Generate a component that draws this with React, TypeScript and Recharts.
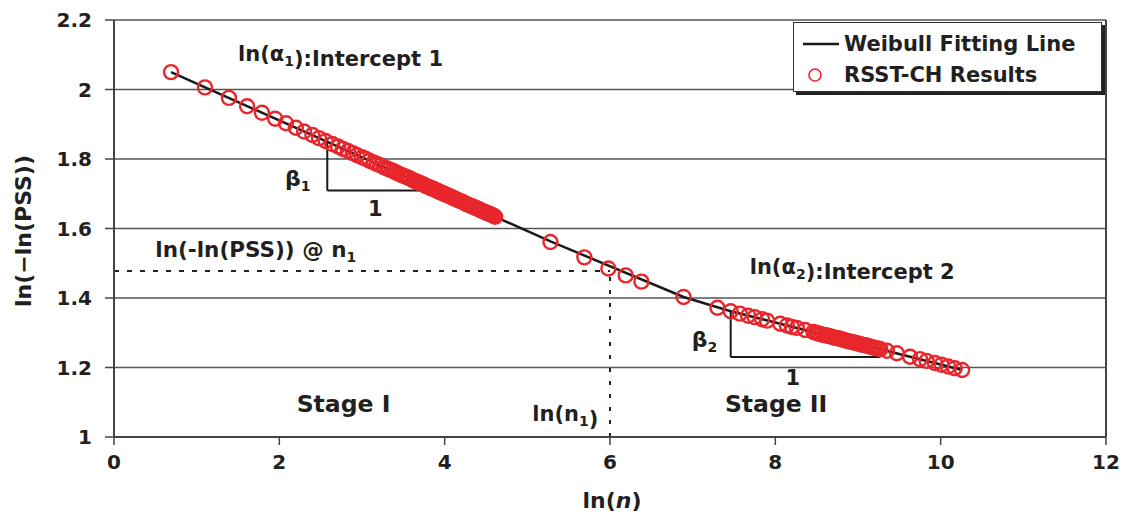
import React from 'react';
import {
  ScatterChart,
  Scatter,
  XAxis,
  YAxis,
  CartesianGrid,
  ReferenceLine,
  ReferenceDot,
  Legend,
} from 'recharts';

// ln(n) and ln(-ln(PSS))
const stage1X = [
  0.69, 1.1, 1.39, 1.61, 1.79, 1.95, 2.08, 2.2, 2.3, 2.4, 2.48, 2.56, 2.64, 2.71, 2.77, 2.83, 2.89, 2.94,
  3.0, 3.04, 3.09, 3.14, 3.18, 3.22, 3.26, 3.3, 3.33, 3.37, 3.4, 3.43, 3.47, 3.5, 3.53, 3.56, 3.58, 3.61,
  3.64, 3.66, 3.69, 3.71, 3.74, 3.76, 3.78, 3.81, 3.83, 3.85, 3.87, 3.89, 3.91, 3.93, 3.95, 3.97, 3.99,
  4.01, 4.03, 4.06, 4.09, 4.11, 4.14, 4.17, 4.2, 4.23, 4.26, 4.29, 4.32, 4.34, 4.37, 4.39, 4.42, 4.44,
  4.47, 4.49, 4.51, 4.53, 4.55, 4.57, 4.59, 4.61,
];
const stage1Y = [
  2.05, 2.006, 1.976, 1.952, 1.933, 1.916, 1.903, 1.89, 1.879, 1.869, 1.86, 1.852, 1.843, 1.836, 1.829,
  1.823, 1.817, 1.811, 1.805, 1.801, 1.795, 1.79, 1.786, 1.782, 1.777, 1.773, 1.77, 1.766, 1.763, 1.759,
  1.755, 1.752, 1.749, 1.746, 1.744, 1.74, 1.737, 1.735, 1.732, 1.73, 1.727, 1.724, 1.722, 1.719, 1.717,
  1.715, 1.713, 1.711, 1.709, 1.706, 1.704, 1.702, 1.7, 1.698, 1.696, 1.693, 1.69, 1.687, 1.684, 1.681,
  1.678, 1.675, 1.671, 1.668, 1.665, 1.663, 1.66, 1.658, 1.655, 1.652, 1.649, 1.647, 1.645, 1.643, 1.641,
  1.639, 1.637, 1.634,
];
const middleX = [5.28, 5.69, 5.98, 6.19, 6.38, 6.89, 7.3, 7.46];
const middleY = [1.561, 1.517, 1.485, 1.465, 1.447, 1.403, 1.372, 1.362];
const stage2X = [
  7.57, 7.67, 7.75, 7.84, 7.9, 8.06, 8.14, 8.2, 8.26, 8.36, 8.46, 8.49, 8.52, 8.55, 8.58, 8.61, 8.64, 8.67,
  8.7, 8.73, 8.76, 8.79, 8.82, 8.85, 8.88, 8.91, 8.94, 8.97, 9.0, 9.03, 9.06, 9.09, 9.12, 9.15, 9.18, 9.21,
  9.24, 9.27, 9.35, 9.47, 9.63, 9.75, 9.83, 9.93, 10.01, 10.09, 10.17, 10.26,
];
const stage2Y = [
  1.355, 1.349, 1.345, 1.339, 1.335, 1.326, 1.321, 1.317, 1.314, 1.308, 1.302, 1.3, 1.298, 1.296, 1.294,
  1.293, 1.291, 1.289, 1.287, 1.285, 1.284, 1.282, 1.28, 1.278, 1.276, 1.274, 1.273, 1.271, 1.269, 1.267,
  1.265, 1.264, 1.262, 1.26, 1.258, 1.256, 1.255, 1.253, 1.248, 1.241, 1.231, 1.224, 1.219, 1.213, 1.208,
  1.203, 1.198, 1.193,
];

// Weibull fitting line
const fitX = [0.69, 5.28, 6.89, 7.46, 10.26];
const fitY = [2.05, 1.563, 1.403, 1.362, 1.193];

const xTicks = [0, 2, 4, 6, 8, 10, 12];
const yTicks = [1, 1.2, 1.4, 1.6, 1.8, 2, 2.2];

// transition point n1
const lnN1 = 6;
const pssAtN1 = 1.478;

// slope triangles [xLeft, xRight, yTop, yBottom]
const triangle1 = [2.58, 3.76, 1.856, 1.709];
const triangle2 = [7.46, 9.27, 1.362, 1.23];

const zip = (xs: number[], ys: number[]) => xs.map((x, i) => ({ x, y: ys[i] }));
const resultData = [
  ...zip(stage1X, stage1Y),
  ...zip(middleX, middleY),
  ...zip(stage2X, stage2Y),
];
const fitData = zip(fitX, fitY);

const FONT = '"DejaVu Sans", "Liberation Sans", Arial, sans-serif';
const INK = '#231f20';
const RED = '#e8262b';

const textStyle = { fontFamily: FONT, fontWeight: 700, fontSize: 20, fill: INK };

function note(
  key: string,
  x: number,
  y: number,
  content: React.ReactNode,
  size = 21,
  anchor = 'start',
) {
  return (
    <ReferenceDot
      key={key}
      x={x}
      y={y}
      r={0}
      fill="none"
      stroke="none"
      label={(p: any) => {
        const vb = p.viewBox || {};
        const cx = (vb.x ?? 0) + (vb.width ?? 0) / 2;
        const cy = (vb.y ?? 0) + (vb.height ?? 0) / 2;
        return (
          <text x={cx} y={cy} textAnchor={anchor as any} style={{ ...textStyle, fontSize: size }}>
            {content}
          </text>
        );
      }}
    />
  );
}

const sub = (s: string) => [
  <tspan key="s" fontSize={14} dy={5}>{s}</tspan>,
  <tspan key="r" dy={-5}>{''}</tspan>,
];

function LegendBox() {
  return (
    <div
      style={{
        width: 309,
        height: 70,
        boxSizing: 'border-box',
        border: '1.5px solid #333',
        boxShadow: '3px 3px 0 #222',
        background: '#fff',
        fontFamily: FONT,
        fontWeight: 700,
        fontSize: 21,
        color: INK,
        paddingLeft: 9,
        paddingTop: 5,
        whiteSpace: 'nowrap',
      }}
    >
      <div style={{ display: 'flex', alignItems: 'center', height: 31 }}>
        <svg width={38} height={10} style={{ marginRight: 3 }}>
          <line x1={0} y1={5} x2={36} y2={5} stroke="#1a1a1a" strokeWidth={2.5} />
        </svg>
        Weibull Fitting Line
      </div>
      <div style={{ display: 'flex', alignItems: 'center', height: 31 }}>
        <svg width={38} height={16} style={{ marginRight: 3 }}>
          <circle cx={12} cy={8} r={6} fill="none" stroke={RED} strokeWidth={1.6} />
        </svg>
        RSST-CH Results
      </div>
    </div>
  );
}

export default function App() {
  return (
    <div style={{ position: 'absolute', left: 0, top: 0, background: '#fff' }}>
      <ScatterChart width={1122} height={518} margin={{ top: 20, right: 16, bottom: 0, left: 0 }}>
        <CartesianGrid vertical={false} stroke="#555" strokeWidth={1.4} />
        <XAxis
          type="number"
          dataKey="x"
          domain={[0, 12]}
          ticks={xTicks}
          interval={0}
          height={81}
          tickSize={8}
          tickMargin={10}
          axisLine={{ stroke: '#444', strokeWidth: 2 }}
          tickLine={{ stroke: '#444', strokeWidth: 1.5 }}
          tick={textStyle}
          label={{
            content: () => (
              <text x={612} y={508} textAnchor="middle" style={{ ...textStyle, fontSize: 22 }}>
                ln(<tspan fontStyle="italic">n</tspan>)
              </text>
            ),
          }}
        />
        <YAxis
          type="number"
          dataKey="y"
          domain={[1, 2.2]}
          ticks={yTicks}
          interval={0}
          width={114}
          tickSize={9}
          tickMargin={13}
          axisLine={{ stroke: '#444', strokeWidth: 2 }}
          tickLine={{ stroke: '#444', strokeWidth: 1.5 }}
          tick={textStyle}
          label={{
            content: () => (
              <text
                x={23}
                y={231}
                transform="rotate(-90, 23, 231)"
                textAnchor="middle"
                dominantBaseline="central"
                style={{ ...textStyle, fontSize: 22 }}
              >
                ln(−ln(PSS))
              </text>
            ),
          }}
        />
        <ReferenceLine x={12} stroke="#444" strokeWidth={2} />

        {/* transition point */}
        <ReferenceLine
          segment={[{ x: 0, y: pssAtN1 }, { x: lnN1, y: pssAtN1 }]}
          stroke="#222"
          strokeWidth={2}
          strokeDasharray="5 8"
        />
        <ReferenceLine
          segment={[{ x: lnN1, y: 1 }, { x: lnN1, y: pssAtN1 }]}
          stroke="#222"
          strokeWidth={2}
          strokeDasharray="4 9"
        />

        {/* slope triangles */}
        <ReferenceLine
          segment={[{ x: triangle1[0], y: triangle1[2] }, { x: triangle1[0], y: triangle1[3] }]}
          stroke="#1a1a1a"
          strokeWidth={2}
        />
        <ReferenceLine
          segment={[{ x: triangle1[0], y: triangle1[3] }, { x: triangle1[1], y: triangle1[3] }]}
          stroke="#1a1a1a"
          strokeWidth={2}
        />
        <ReferenceLine
          segment={[{ x: triangle2[0], y: triangle2[2] }, { x: triangle2[0], y: triangle2[3] }]}
          stroke="#1a1a1a"
          strokeWidth={2}
        />
        <ReferenceLine
          segment={[{ x: triangle2[0], y: triangle2[3] }, { x: triangle2[1], y: triangle2[3] }]}
          stroke="#1a1a1a"
          strokeWidth={2}
        />

        <Scatter
          name="Weibull Fitting Line"
          data={fitData}
          line={{ stroke: '#1a1a1a', strokeWidth: 2.5 }}
          lineType="joint"
          shape={() => <g />}
          isAnimationActive={false}
        />
        <Scatter
          name="RSST-CH Results"
          data={resultData}
          shape={(p: any) => (
            <circle cx={p.cx} cy={p.cy} r={7} fill="none" stroke={RED} strokeWidth={2.4} />
          )}
          isAnimationActive={false}
        />

        {note('a1', 1.5, 2.081, <>ln(α{sub('1')}):Intercept 1</>)}
        {note('b1', 2.07, 1.721, <>β{sub('1')}</>, 22)}
        {note('one1', 3.16, 1.635, '1', 21, 'middle')}
        {note('pss', 0.5, 1.517, <>ln(-ln(PSS)) @ n{sub('1')}</>, 21.5)}
        {note('a2', 7.69, 1.468, <>ln(α{sub('2')}):Intercept 2</>)}
        {note('b2', 6.99, 1.258, <>β{sub('2')}</>, 22)}
        {note('one2', 8.21, 1.151, '1', 21, 'middle')}
        {note('s1', 2.21, 1.073, 'Stage I', 23.5)}
        {note('n1', 5.06, 1.045, <>ln(n{sub('1')})</>)}
        {note('s2', 7.39, 1.073, 'Stage II', 23.5)}

        <Legend
          layout="horizontal"
          verticalAlign="middle"
          align="center"
          wrapperStyle={{ left: 793, top: 22, width: 312, height: 74 }}
          content={() => <LegendBox />}
        />
      </ScatterChart>
    </div>
  );
}
